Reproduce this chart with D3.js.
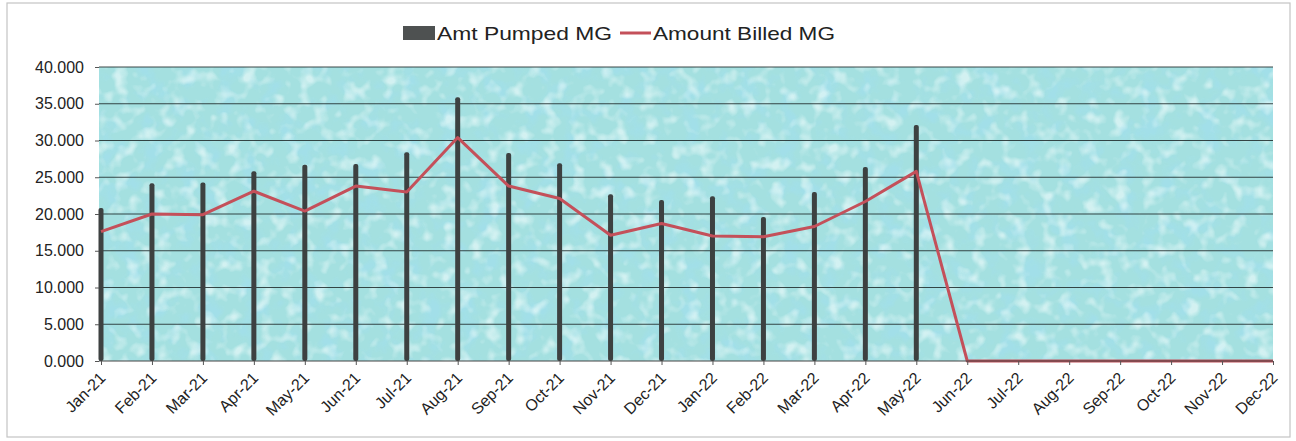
<!DOCTYPE html>
<html><head><meta charset="utf-8">
<script src="https://d3js.org/d3.v7.min.js"></script>
<style>
body{margin:0;background:#fff;}
text{font-family:"Liberation Sans",Arial,sans-serif;fill:#222;}
</style>
</head>
<body>
<script>
// months on the x axis
months=["Jan-21","Feb-21","Mar-21","Apr-21","May-21","Jun-21","Jul-21","Aug-21","Sep-21","Oct-21","Nov-21","Dec-21",
        "Jan-22","Feb-22","Mar-22","Apr-22","May-22","Jun-22","Jul-22","Aug-22","Sep-22","Oct-22","Nov-22","Dec-22"];
// bars (null = no bar drawn)
pumped=[20.8,24.2,24.3,25.8,26.7,26.8,28.4,35.9,28.3,26.9,22.7,21.9,
        22.4,19.6,23.0,26.4,32.1,null,null,null,null,null,null,null];
// red line
billed=[17.6,20.0,19.9,23.1,20.4,23.8,23.0,30.4,23.8,22.1,17.1,18.7,
        17.0,16.9,18.3,21.7,25.8,0,0,0,0,0,0,0];
yTicks=[0,5,10,15,20,25,30,35,40];

W=1296;H=441;
pL=101;pR=1273;pT=67;pB=361;

svg=d3.select("body").append("svg")
.attr("width",W)
.attr("height",H);

defs=svg.append("defs");
// blue-ish blotches
f=defs.append("filter").attr("id","tex").attr("x",0).attr("y",0).attr("width","100%").attr("height","100%");
f.append("feTurbulence").attr("type","fractalNoise").attr("baseFrequency","0.05").attr("numOctaves",3).attr("seed",4).attr("result","n");
f.append("feColorMatrix").attr("in","n").attr("type","matrix")
.attr("values","0 0 0 0 0.36  0 0 0 0 0.74  0 0 0 0 0.82  0 0 0 3.4 -1.6");
// pale spots
g2=defs.append("filter").attr("id","tex2").attr("x",0).attr("y",0).attr("width","100%").attr("height","100%");
g2.append("feTurbulence").attr("type","fractalNoise").attr("baseFrequency","0.07").attr("numOctaves",2).attr("seed",11).attr("result","n");
g2.append("feColorMatrix").attr("in","n").attr("type","matrix")
.attr("values","0 0 0 0 0.80  0 0 0 0 0.95  0 0 0 0 0.95  0 3.2 0 0 -1.6");

// outer frame
svg.append("rect")
.attr("x",7).attr("y",3).attr("width",1283).attr("height",434)
.attr("fill","none").attr("stroke","#c4c4c4").attr("stroke-width",1.2);

x=d3.scalePoint().domain(months).range([pL,pR]);
y=d3.scaleLinear().domain([0,40]).range([pB,pT]);

// plot area
svg.append("rect")
.attr("x",pL-2).attr("y",pT).attr("width",pR-pL+2).attr("height",pB-pT)
.attr("fill","#a4e0e0");
svg.append("rect")
.attr("x",pL-2).attr("y",pT).attr("width",pR-pL+2).attr("height",pB-pT)
.attr("filter","url(#tex)").attr("opacity",0.9);
svg.append("rect")
.attr("x",pL-2).attr("y",pT).attr("width",pR-pL+2).attr("height",pB-pT)
.attr("filter","url(#tex2)").attr("opacity",0.7);

// gridlines
svg.append("g").selectAll("line")
.data(yTicks.slice(1))
.enter()
.append("line")
.attr("x1",pL-2).attr("x2",pR)
.attr("y1",function(d){return y(d);})
.attr("y2",function(d){return y(d);})
.attr("stroke","#1f2a2a").attr("stroke-width",1.2).attr("opacity",0.85);

// bars
svg.append("g").selectAll("rect")
.data(months.filter(function(m,i){return pumped[i]!==null;}))
.enter()
.append("rect")
.attr("x",function(d){return x(d)-2.5;})
.attr("width",5)
.attr("y",function(d){return y(pumped[months.indexOf(d)]);})
.attr("height",function(d){return pB-y(pumped[months.indexOf(d)]);})
.attr("rx",2)
.attr("fill","#3d4141");

// billed line
line=d3.line()
.x(function(d,i){return x(months[i]);})
.y(function(d){return y(d);});
svg.append("path")
.datum(billed)
.attr("d",line)
.attr("fill","none")
.attr("stroke","#c4505a")
.attr("stroke-width",3)
.attr("stroke-linejoin","round");

// axes
xa=svg.append("g")
.attr("transform","translate(0,"+pB+")")
.call(d3.axisBottom(x).tickSize(4).tickSizeOuter(0));
xa.select(".domain").attr("stroke","#444").attr("d","M"+(pL-2)+",0H"+pR);
xa.selectAll(".tick line").attr("stroke","#555");
xa.selectAll("text")
.attr("font-size",16)
.attr("fill","#222")
.attr("text-anchor","end")
.attr("y",0).attr("dy",0)
.attr("transform","translate(5,18) rotate(-45)");

ya=svg.append("g")
.attr("transform","translate("+(pL-2)+",0)")
.call(d3.axisLeft(y).tickValues(yTicks).tickFormat(d3.format(".3f")).tickSize(4));
ya.select(".domain").attr("stroke","none");
ya.selectAll(".tick line").attr("stroke","#555");
ya.selectAll("text").attr("font-size",16).attr("fill","#222").attr("x",-15);

// legend
lg=svg.append("g");
lg.append("rect").attr("x",403).attr("y",26).attr("width",32).attr("height",14).attr("fill","#4e5151");
lg.append("text").attr("x",437).attr("y",40).attr("font-size",19)
.attr("textLength",175).attr("lengthAdjust","spacingAndGlyphs").text("Amt Pumped MG");
lg.append("line").attr("x1",620).attr("x2",651).attr("y1",33).attr("y2",33).attr("stroke","#c4505a").attr("stroke-width",3);
lg.append("text").attr("x",653).attr("y",40).attr("font-size",19)
.attr("textLength",182).attr("lengthAdjust","spacingAndGlyphs").text("Amount Billed MG");
</script>
</body></html>
